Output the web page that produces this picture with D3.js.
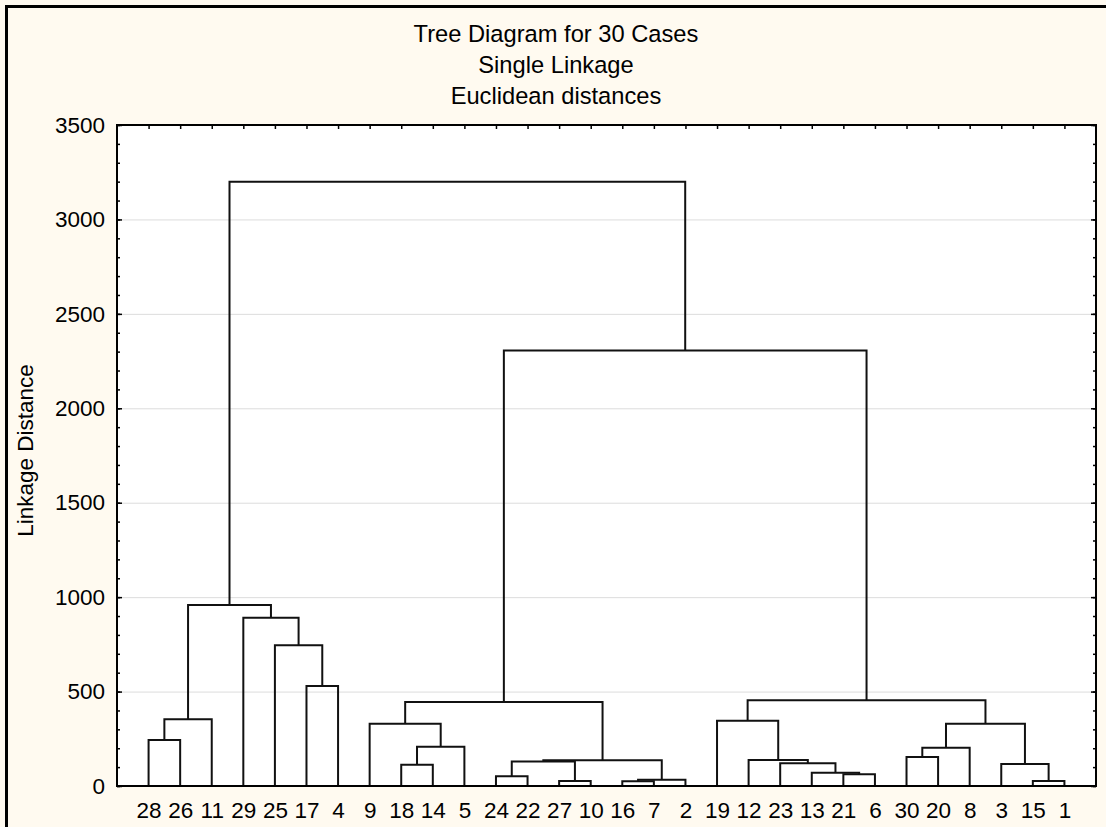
<!DOCTYPE html>
<html>
<head>
<meta charset="utf-8">
<script src="https://cdn.jsdelivr.net/npm/d3@7"></script>
<style>
  html, body { margin: 0; padding: 0; background: #fffaf0; }
  svg { display: block; font-family: "Liberation Sans", Arial, sans-serif; }
</style>
</head>
<body>
<div id="chart"></div>
<script>
// leaf order along the bottom axis
var cases = ["28", "26", "11", "29", "25", "17", "4", "9", "18", "14", "5", "24", "22", "27", "10",
             "16", "7", "2", "19", "12", "23", "13", "21", "6", "30", "20", "8", "3", "15", "1"];

// merge steps: [id, first child, second child, linkage distance]
// a child is a case number or the id of an earlier merge
var merges = [
    ["m1", "16", "7", 25],
    ["m2", "27", "10", 26],
    ["m3", "15", "1", 27],
    ["m4", "m1", "2", 33],
    ["m5", "24", "22", 52],
    ["m6", "21", "6", 62],
    ["m7", "13", "m6", 70],
    ["m8", "18", "14", 112],
    ["m9", "3", "m3", 117],
    ["m10", "23", "m7", 120],
    ["m11", "m5", "m2", 130],
    ["m12", "m11", "m4", 137],
    ["m13", "12", "m10", 138],
    ["m14", "30", "20", 153],
    ["m15", "m14", "8", 203],
    ["m16", "m8", "5", 208],
    ["m17", "28", "26", 244],
    ["m18", "9", "m16", 329],
    ["m19", "m15", "m9", 329],
    ["m20", "19", "m13", 345],
    ["m21", "m17", "11", 354],
    ["m22", "m18", "m12", 445],
    ["m23", "m20", "m19", 454],
    ["m24", "17", "4", 530],
    ["m25", "25", "m24", 745],
    ["m26", "29", "m25", 891],
    ["m27", "m21", "m26", 959],
    ["m28", "m22", "m23", 2306],
    ["m29", "m27", "m28", 3200]
];

var yTicks = [0, 500, 1000, 1500, 2000, 2500, 3000, 3500];
var titleLines = ["Tree Diagram for 30 Cases", "Single Linkage", "Euclidean distances"];

var width = 1106, height = 827;
var margin = { top: 125, right: 10, bottom: 41, left: 117 };

var svg = d3.select("#chart")
            .append("svg")
            .attr("width", width)
            .attr("height", height);

svg.append("rect")
   .attr("width", width)
   .attr("height", height)
   .attr("fill", "#fffaf0");

// frame of the window (only top and left edge are in view)
svg.append("rect")
   .attr("x", 6.5)
   .attr("y", 6.5)
   .attr("width", width + 50)
   .attr("height", height + 50)
   .attr("fill", "none")
   .attr("stroke", "#000")
   .attr("stroke-width", 3);

var x0 = margin.left, x1 = width - margin.right, y0 = height - margin.bottom, y1 = margin.top;

var x_scale = d3.scalePoint()
                .domain(cases)
                .range([x0, x1])
                .padding(1);

var y_scale = d3.scaleLinear()
                .domain([0, 3500])
                .range([y0, y1]);

svg.append("rect")
   .attr("x", x0)
   .attr("y", y1)
   .attr("width", x1 - x0)
   .attr("height", y0 - y1)
   .attr("fill", "#fff");

// grid lines
svg.append("g")
   .attr("transform", `translate(${x0},0)`)
   .call(d3.axisLeft(y_scale).tickValues(yTicks.slice(1, -1)).tickSize(-(x1 - x0)).tickFormat(""))
   .call(g => g.select(".domain").remove())
   .call(g => g.selectAll("line").attr("stroke", "#dcdcdc").attr("stroke-width", 1));

// dendrogram
var pos = {};
cases.forEach(c => { pos[c] = { x: x_scale(c), h: 0 }; });

var links = svg.append("g")
               .attr("fill", "none")
               .attr("stroke", "#111")
               .attr("stroke-width", 2);

merges.forEach(function (m) {
    var a = pos[m[1]], b = pos[m[2]], h = m[3];
    var p = d3.path();
    p.moveTo(a.x, y_scale(a.h));
    p.lineTo(a.x, y_scale(h));
    p.lineTo(b.x, y_scale(h));
    p.lineTo(b.x, y_scale(b.h));
    links.append("path").attr("d", p.toString());
    pos[m[0]] = { x: (a.x + b.x) / 2, h: h };
});

// axes
var tickStyle = g => {
    g.select(".domain").remove();
    g.selectAll("line").attr("stroke", "#000").attr("stroke-width", 1.5);
    g.selectAll("text").attr("fill", "#000").attr("font-size", "22.5px");
};

var minor = d3.range(0, 3501, 100);

svg.append("g")
   .attr("transform", `translate(${x0},0)`)
   .call(d3.axisLeft(y_scale).tickValues(minor).tickSize(-3).tickFormat(""))
   .call(tickStyle);

svg.append("g")
   .attr("transform", `translate(${x0},0)`)
   .call(d3.axisLeft(y_scale).tickValues(yTicks).tickSize(-5).tickPadding(12).tickFormat(d3.format("d")))
   .call(tickStyle);

svg.append("g")
   .attr("transform", `translate(${x1},0)`)
   .call(d3.axisRight(y_scale).tickValues(minor).tickSize(-3).tickFormat(""))
   .call(tickStyle);

svg.append("g")
   .attr("transform", `translate(${x1},0)`)
   .call(d3.axisRight(y_scale).tickValues(yTicks).tickSize(-5).tickFormat(""))
   .call(tickStyle);

svg.append("g")
   .attr("transform", `translate(0,${y1})`)
   .call(d3.axisTop(x_scale).tickSize(-4).tickFormat(""))
   .call(tickStyle);

svg.append("g")
   .attr("transform", `translate(0,${y0})`)
   .call(d3.axisBottom(x_scale).tickSize(0).tickPadding(16))
   .call(tickStyle);

// plot frame
svg.append("rect")
   .attr("x", x0)
   .attr("y", y1)
   .attr("width", x1 - x0)
   .attr("height", y0 - y1)
   .attr("fill", "none")
   .attr("stroke", "#000")
   .attr("stroke-width", 2);

// titles
svg.append("g")
   .selectAll("text")
   .data(titleLines)
   .enter()
   .append("text")
   .attr("x", 556)
   .attr("y", (d, i) => 42 + i * 31)
   .attr("text-anchor", "middle")
   .attr("font-size", "23.7px")
   .attr("fill", "#000")
   .text(d => d);

svg.append("text")
   .attr("transform", `translate(33,${(y0 + y1) / 2 - 5}) rotate(-90)`)
   .attr("text-anchor", "middle")
   .attr("font-size", "22.5px")
   .attr("fill", "#000")
   .text("Linkage Distance");
</script>
</body>
</html>
